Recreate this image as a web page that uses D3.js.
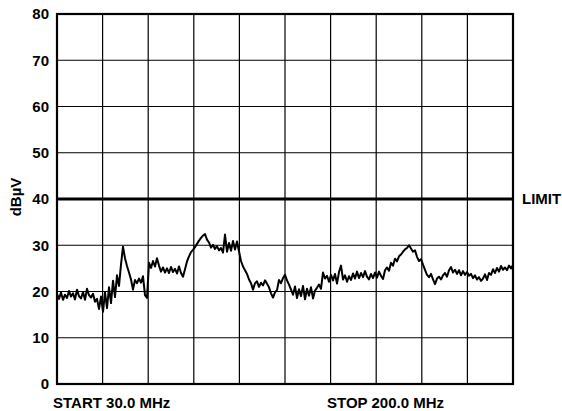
<!DOCTYPE html>
<html>
<head>
<meta charset="utf-8">
<script src="https://cdn.jsdelivr.net/npm/d3@7"></script>
<style>
  body { margin: 0; background: #fff; }
  text { font-family: "Liberation Sans", Arial, Helvetica, sans-serif; font-weight: bold; fill: #000; }
</style>
</head>
<body>
<script>
// sweep settings (MHz)
const startMHz = 30.0;
const stopMHz = 200.0;
const limitDb = 40;
const yTicks = [0, 10, 20, 30, 40, 50, 60, 70, 80];

// measured trace, dBuV, one value per sweep point from START to STOP
const level = [
  19.5, 18.4, 19.8, 18.2, 19.3, 18.6, 20.1, 18.9, 19.6, 18.3,
  20.4, 19.0, 18.5, 19.9, 18.2, 20.6, 19.2, 18.7, 19.5, 17.8,
  18.4, 16.2, 18.9, 15.6, 19.8, 16.4, 20.9, 17.5, 22.3, 18.8,
  23.5, 21.2, 25.8, 29.7, 27.2, 25.5, 24.1, 22.6, 20.4, 22.5,
  21.8, 22.8, 21.9, 23.3, 19.2, 18.6, 26.2, 25.1, 26.6, 25.4,
  27.2, 25.6, 24.3, 25.2, 24.1, 25.0, 24.0, 25.3, 24.2, 24.9,
  23.9, 25.4, 24.0, 23.2, 24.8, 26.5, 27.6, 28.5, 29.0, 29.6,
  30.3, 31.0, 31.6, 32.1, 32.4, 31.2, 30.6, 29.5, 30.1, 29.2,
  29.8, 28.9, 29.4, 28.4, 32.3, 28.6, 30.5, 28.8, 30.9, 29.1,
  30.8, 28.7, 26.6, 25.4, 24.6, 23.8, 22.6, 21.8, 20.4, 21.8,
  22.2, 21.0, 21.9, 21.3, 22.4, 21.7, 20.9, 19.6, 18.7, 19.8,
  20.3, 22.5, 21.8, 22.9, 23.6, 22.4, 21.5, 20.4, 19.3, 21.1,
  18.6, 20.5, 19.0, 21.2, 18.3, 20.6, 19.1, 20.9, 18.5, 20.2,
  20.8, 21.5, 20.6, 24.1, 22.8, 23.4, 22.1, 23.6, 22.4, 23.8,
  21.7, 24.2, 25.6, 22.6, 23.5, 22.1, 23.3, 22.5, 23.9, 22.8,
  24.3, 22.9, 24.0, 23.1, 24.4, 23.2, 22.6, 23.8, 22.9, 24.1,
  23.0, 24.3, 23.4, 22.7, 24.6, 25.2, 24.5, 26.2, 25.6, 27.1,
  26.5, 27.6, 28.0, 28.6, 29.1, 29.4, 30.0, 29.3, 28.6, 28.9,
  27.5, 26.6, 27.0, 25.8, 24.7, 23.6, 23.1, 23.8, 22.6, 21.6,
  22.8, 23.2, 22.6, 23.5, 24.0, 23.2, 24.6, 25.3, 24.1, 24.7,
  23.8, 24.6, 23.5, 24.4, 23.6, 24.2, 23.4, 23.8, 22.9, 23.5,
  22.6, 23.1, 22.3, 22.8, 23.7, 22.5, 24.0, 23.6, 24.8, 24.0,
  25.1, 24.3, 25.5, 24.7, 25.2, 24.6, 25.6, 25.0, 25.7
];

const W = 562, H = 411;
const plotL = 57, plotR = 513, plotT = 14, plotB = 384;

const svg = d3.select("body")
  .append("svg")
  .attr("width", W)
  .attr("height", H);

const x = d3.scaleLinear().domain([startMHz, stopMHz]).range([plotL, plotR]);
const y = d3.scaleLinear().domain([0, 80]).range([plotB, plotT]);

// vertical grid: 10 divisions across the sweep
const step = (stopMHz - startMHz) / 10;
const xGrid = d3.range(11).map(i => startMHz + i * step);

svg.append("g")
  .selectAll("line")
  .data(xGrid.slice(1, -1))
  .join("line")
  .attr("x1", d => x(d)).attr("x2", d => x(d))
  .attr("y1", plotT).attr("y2", plotB)
  .attr("stroke", "#000").attr("stroke-width", 1.2);

svg.append("g")
  .selectAll("line")
  .data(yTicks.slice(1, -1))
  .join("line")
  .attr("x1", plotL).attr("x2", plotR)
  .attr("y1", d => y(d)).attr("y2", d => y(d))
  .attr("stroke", "#000").attr("stroke-width", 1.2);

// frame
svg.append("rect")
  .attr("x", plotL).attr("y", plotT)
  .attr("width", plotR - plotL).attr("height", plotB - plotT)
  .attr("fill", "none").attr("stroke", "#000").attr("stroke-width", 2.2);

// y tick labels
svg.append("g")
  .selectAll("text")
  .data(yTicks)
  .join("text")
  .attr("x", 49)
  .attr("y", d => y(d))
  .attr("dy", "0.35em")
  .attr("text-anchor", "end")
  .style("font-size", "15px")
  .text(d => d);

svg.append("text")
  .attr("transform", `translate(21,${y(40) - 2}) rotate(-90)`)
  .attr("text-anchor", "middle")
  .style("font-size", "15px")
  .text("dBµV");

// limit line
svg.append("line")
  .attr("x1", plotL).attr("x2", plotR)
  .attr("y1", y(limitDb)).attr("y2", y(limitDb))
  .attr("stroke", "#000").attr("stroke-width", 3);

svg.append("text")
  .attr("x", 522)
  .attr("y", y(limitDb))
  .attr("dy", "0.35em")
  .style("font-size", "15px")
  .text("LIMIT");

// trace
const fStep = (stopMHz - startMHz) / (level.length - 1);
const line = d3.line()
  .x((d, i) => x(startMHz + i * fStep))
  .y(d => y(d));

svg.append("path")
  .datum(level)
  .attr("d", line)
  .attr("fill", "none")
  .attr("stroke", "#000")
  .attr("stroke-width", 2)
  .attr("stroke-linejoin", "round");

// start / stop labels
svg.append("text")
  .attr("x", 53).attr("y", 408)
  .style("font-size", "15px")
  .text("START " + startMHz.toFixed(1) + " MHz");

svg.append("text")
  .attr("x", 327).attr("y", 408)
  .style("font-size", "15px")
  .text("STOP " + stopMHz.toFixed(1) + " MHz");
</script>
</body>
</html>
